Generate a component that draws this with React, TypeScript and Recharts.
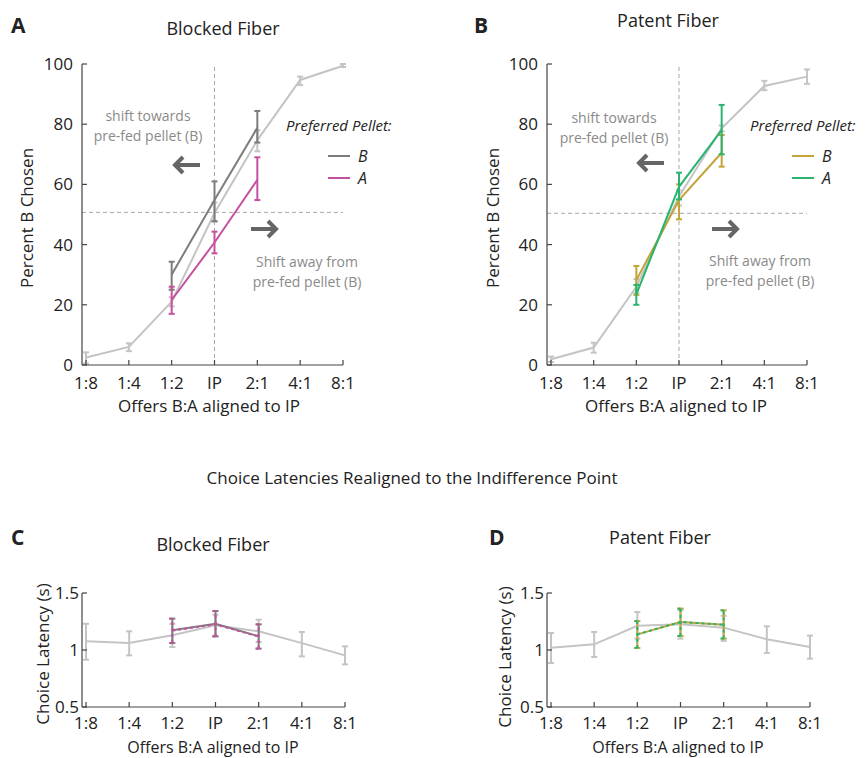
import React from "react";
import {
	LineChart,
	Line,
	XAxis,
	YAxis,
	ErrorBar,
	ReferenceLine
} from "recharts";

const FONT = "'Open Sans', 'Noto Sans', sans-serif";

const categories = ["1:8", "1:4", "1:2", "IP", "2:1", "4:1", "8:1"];
const pctTicks = [0, 20, 40, 60, 80, 100];
const latTicks = [0.5, 1, 1.5];

// A: blocked fiber, percent B chosen
const aAllMean = [2.5, 6, 21, 50.5, 74.7, 94.7, 99.4];
const aAllLo = [0.5, 4.6, 19.5, 47.5, 71, 93, 99];
const aAllHi = [4.2, 7.2, 22.5, 54, 78, 95.8, 100];
const aBMean = [null, null, 30, 54.8, 78.8, null, null];
const aBLo = [null, null, 25, 47.8, 73.9, null, null];
const aBHi = [null, null, 34.3, 61, 84.4, null, null];
const aAMean = [null, null, 21.6, 40.7, 61.5, null, null];
const aALo = [null, null, 17, 37.1, 54.8, null, null];
const aAHi = [null, null, 26, 44.3, 69, null, null];

// B: patent fiber, percent B chosen
const bAllMean = [1.9, 5.8, 26, 56, 78.6, 92.7, 95.8];
const bAllLo = [1, 4.1, 24, 53, 77.6, 91.3, 93.4];
const bAllHi = [2.8, 7.4, 28.5, 58, 79.6, 94.4, 98.2];
const bBMean = [null, null, 28.2, 54.8, 70.5, null, null];
const bBLo = [null, null, 23.3, 48.4, 65.9, null, null];
const bBHi = [null, null, 32.9, 60, 76.4, null, null];
const bAMean = [null, null, 23.5, 59.2, 78, null, null];
const bALo = [null, null, 20, 55, 70, null, null];
const bAHi = [null, null, 26.6, 63.9, 86.4, null, null];

// C: blocked fiber, choice latency (s)
const cAllMean = [1.076, 1.061, 1.129, 1.216, 1.164, 1.06, 0.953];
const cAllLo = [0.915, 0.953, 1.026, 1.12, 1.07, 0.944, 0.874];
const cAllHi = [1.23, 1.164, 1.23, 1.31, 1.266, 1.158, 1.032];
const cBMean = [null, null, 1.173, 1.23, 1.12, null, null];
const cBLo = [null, null, 1.061, 1.12, 1.012, null, null];
const cBHi = [null, null, 1.275, 1.342, 1.225, null, null];
const cAMean = [null, null, 1.17, 1.225, 1.118, null, null];
const cALo = [null, null, 1.061, 1.12, 1.012, null, null];
const cAHi = [null, null, 1.275, 1.342, 1.225, null, null];

// D: patent fiber, choice latency (s)
const dAllMean = [1.02, 1.05, 1.213, 1.225, 1.196, 1.094, 1.026];
const dAllLo = [0.886, 0.939, 1.1, 1.1, 1.08, 0.974, 0.924];
const dAllHi = [1.149, 1.158, 1.333, 1.35, 1.3, 1.208, 1.126];
const dBMean = [null, null, 1.137, 1.246, 1.222, null, null];
const dBLo = [null, null, 1.018, 1.123, 1.1, null, null];
const dBHi = [null, null, 1.254, 1.363, 1.348, null, null];
const dAMean = [null, null, 1.137, 1.246, 1.222, null, null];
const dALo = [null, null, 1.018, 1.123, 1.1, null, null];
const dAHi = [null, null, 1.254, 1.363, 1.348, null, null];

const LIGHT = "#c4c4c4";
const DARK = "#7d7d7d";
const MAGENTA = "#c4509e";
const GOLD = "#c2a437";
const GREEN = "#2ab470";
const AXIS = "#444";

type Num = number | null;

const err = (m: Num, lo: Num, hi: Num) =>
	m == null || lo == null || hi == null ? undefined : [m - lo, hi - m];

const buildRows = (
	all: Num[][],
	pb: Num[][],
	pa: Num[][]
) =>
	categories.map((name, i) => ({
		name,
		all: all[0][i],
		allErr: err(all[0][i], all[1][i], all[2][i]),
		pb: pb[0][i],
		pbErr: err(pb[0][i], pb[1][i], pb[2][i]),
		pa: pa[0][i],
		paErr: err(pa[0][i], pa[1][i], pa[2][i])
	}));

const rowsA = buildRows([aAllMean, aAllLo, aAllHi], [aBMean, aBLo, aBHi], [aAMean, aALo, aAHi]);
const rowsB = buildRows([bAllMean, bAllLo, bAllHi], [bBMean, bBLo, bBHi], [bAMean, bALo, bAHi]);
const rowsC = buildRows([cAllMean, cAllLo, cAllHi], [cBMean, cBLo, cBHi], [cAMean, cALo, cAHi]);
const rowsD = buildRows([dAllMean, dAllLo, dAllHi], [dBMean, dBLo, dBHi], [dAMean, dALo, dAHi]);

const makeXTick = (dy: number) => (props: any) => {
	const { x, y, payload } = props;
	return (
		<g>
			<line x1={x} x2={x} y1={y} y2={y - 5} stroke={AXIS} strokeWidth={1.2} />
			<text x={x} y={y + dy} textAnchor="middle" fontSize={17} fontFamily={FONT} fill="#222">
				{payload.value}
			</text>
		</g>
	);
};

const makeYTick = (gap: number) => (props: any) => {
	const { x, y, payload } = props;
	return (
		<g>
			<line x1={x} x2={x + 5} y1={y} y2={y} stroke={AXIS} strokeWidth={1.2} />
			<text x={x - gap} y={y + 6} textAnchor="end" fontSize={17} fontFamily={FONT} fill="#222">
				{String(payload.value)}
			</text>
		</g>
	);
};

const PctXTick = makeXTick(24);
const LatXTick = makeXTick(22);
const PctTick = makeYTick(9);
const LatTick = makeYTick(3);

type PanelProps = {
	rows: any[];
	left: number;
	top: number;
	right: number;
	bottom: number;
	latency: boolean;
	colB: string;
	colA: string;
	xPad: number;
	refY?: number;
};

const YW = 40;
const XH = 20;

const Panel = ({ rows, left, top, right, bottom, latency, colB, colA, xPad, refY }: PanelProps) => {
	const boxX = left - 60;
	const boxY = top - 20;
	const w = right - boxX + 20;
	const h = bottom - boxY + 40;
	return (
		<div style={{ position: "absolute", left: boxX, top: boxY }}>
			<LineChart
				width={w}
				height={h}
				data={rows}
				margin={{ top: top - boxY, left: left - boxX - YW, right: boxX + w - right, bottom: boxY + h - bottom - XH }}
			>
				<XAxis
					dataKey="name"
					height={XH}
					padding={{ left: xPad, right: 0 }}
					axisLine={{ stroke: AXIS, strokeWidth: 1.2 }}
					tickLine={false}
					tickSize={0}
					tickMargin={0}
					interval={0}
					tick={latency ? <LatXTick /> : <PctXTick />}
				/>
				<YAxis
					width={YW}
					domain={latency ? [0.5, 1.5] : [0, 100]}
					ticks={latency ? latTicks : pctTicks}
					axisLine={{ stroke: AXIS, strokeWidth: 1.2 }}
					tickLine={false}
					tickSize={0}
					tickMargin={0}
					interval={0}
					tick={latency ? <LatTick /> : <PctTick />}
				/>
				{refY != null && (
					<ReferenceLine y={refY} stroke="#a8a8a8" strokeDasharray="4 3" strokeWidth={1} />
				)}
				{refY != null && (
					<ReferenceLine x="IP" stroke="#a8a8a8" strokeDasharray="4 3" strokeWidth={1} />
				)}
				<Line
					dataKey="all"
					stroke={LIGHT}
					strokeWidth={2}
					dot={false}
					isAnimationActive={false}
				>
					<ErrorBar dataKey="allErr" width={3} stroke={LIGHT} strokeWidth={2} isAnimationActive={false} />
				</Line>
				<Line
					dataKey="pb"
					stroke={colB}
					strokeWidth={2}
					dot={false}
					isAnimationActive={false}
				>
					<ErrorBar dataKey="pbErr" width={3} stroke={colB} strokeWidth={2} isAnimationActive={false} />
				</Line>
				<Line
					dataKey="pa"
					stroke={colA}
					strokeWidth={2}
					strokeDasharray={latency ? "3 3" : undefined}
					dot={false}
					isAnimationActive={false}
				>
					<ErrorBar
						dataKey="paErr"
						width={3}
						stroke={colA}
						strokeWidth={2}
						strokeDasharray={latency ? "3 3" : undefined}
						isAnimationActive={false}
					/>
				</Line>
			</LineChart>
		</div>
	);
};

const txt = { fontFamily: FONT, fill: "#222" };
const grey = { fontFamily: FONT, fill: "#8a8a8a", fontSize: 14 };

const LeftArrow = ({ x, y }: { x: number; y: number }) => (
	<path
		d={`M${x + 26},${y} L${x + 2},${y} M${x + 9},${y - 8} L${x + 1},${y} L${x + 9},${y + 8}`}
		stroke="#666"
		strokeWidth={4}
		fill="none"
		strokeLinejoin="miter"
	/>
);

const RightArrow = ({ x, y }: { x: number; y: number }) => (
	<path
		d={`M${x},${y} L${x + 24},${y} M${x + 17},${y - 8} L${x + 25},${y} L${x + 17},${y + 8}`}
		stroke="#666"
		strokeWidth={4}
		fill="none"
		strokeLinejoin="miter"
	/>
);

const LegendBlock = ({ x, y, colB, colA }: { x: number; y: number; colB: string; colA: string }) => (
	<g>
		<text x={x} y={y} fontSize={15} fontStyle="italic" {...txt}>
			Preferred Pellet:
		</text>
		<line x1={x + 42} x2={x + 64} y1={y + 25} y2={y + 25} stroke={colB} strokeWidth={2} />
		<text x={x + 72} y={y + 31} fontSize={16} fontStyle="italic" {...txt}>
			B
		</text>
		<line x1={x + 42} x2={x + 64} y1={y + 47} y2={y + 47} stroke={colA} strokeWidth={2} />
		<text x={x + 72} y={y + 53} fontSize={16} fontStyle="italic" {...txt}>
			A
		</text>
	</g>
);

const App = () => {
	return (
		<div style={{ position: "absolute", left: 0, top: 0, width: 865, height: 758, background: "#fff", overflow: "hidden" }}>
			<Panel rows={rowsA} left={82} top={64} right={343} bottom={365} latency={false} colB={DARK} colA={MAGENTA} xPad={4} refY={50.7} />
			<Panel rows={rowsB} left={547} top={64} right={807} bottom={365} latency={false} colB={GOLD} colA={GREEN} xPad={4} refY={50.4} />
			<Panel rows={rowsC} left={82} top={593} right={345} bottom={707} latency={true} colB={DARK} colA={MAGENTA} xPad={4} />
			<Panel rows={rowsD} left={547} top={593} right={810} bottom={707} latency={true} colB={GOLD} colA={GREEN} xPad={4} />
			<svg width={865} height={758} style={{ position: "absolute", left: 0, top: 0, pointerEvents: "none" }}>
				{/* panel letters and titles */}
				<text x={11} y={33} fontSize={21} fontWeight="bold" {...txt}>A</text>
				<text x={474} y={33} fontSize={21} fontWeight="bold" {...txt}>B</text>
				<text x={11} y={545} fontSize={21} fontWeight="bold" {...txt}>C</text>
				<text x={489} y={545} fontSize={21} fontWeight="bold" {...txt}>D</text>
				<text x={223} y={35} fontSize={18} textAnchor="middle" {...txt}>Blocked Fiber</text>
				<text x={668} y={27} fontSize={18} textAnchor="middle" {...txt}>Patent Fiber</text>
				<text x={213} y={551} fontSize={18} textAnchor="middle" {...txt}>Blocked Fiber</text>
				<text x={660} y={544} fontSize={18} textAnchor="middle" {...txt}>Patent Fiber</text>
				<text x={412} y={484} fontSize={17} textAnchor="middle" {...txt}>
					Choice Latencies Realigned to the Indifference Point
				</text>

				{/* axis titles */}
				<text transform="translate(33,218) rotate(-90)" fontSize={17} textAnchor="middle" {...txt}>Percent B Chosen</text>
				<text transform="translate(499,218) rotate(-90)" fontSize={17} textAnchor="middle" {...txt}>Percent B Chosen</text>
				<text transform="translate(49,654) rotate(-90)" fontSize={17} textAnchor="middle" {...txt}>Choice Latency (s)</text>
				<text transform="translate(511,657) rotate(-90)" fontSize={17} textAnchor="middle" {...txt}>Choice Latency (s)</text>
				<text x={209} y={412} fontSize={17} textAnchor="middle" {...txt}>Offers B:A aligned to IP</text>
				<text x={676} y={412} fontSize={17} textAnchor="middle" {...txt}>Offers B:A aligned to IP</text>
				<text x={213} y={753} fontSize={16} textAnchor="middle" {...txt}>Offers B:A aligned to IP</text>
				<text x={678} y={753} fontSize={16} textAnchor="middle" {...txt}>Offers B:A aligned to IP</text>

				{/* annotations A */}
				<text x={148} y={121} textAnchor="middle" {...grey}>shift towards</text>
				<text x={148} y={141} textAnchor="middle" {...grey}>pre-fed pellet (B)</text>
				<LeftArrow x={174} y={165} />
				<RightArrow x={251} y={229} />
				<text x={307} y={267} textAnchor="middle" {...grey}>Shift away from</text>
				<text x={307} y={287} textAnchor="middle" {...grey}>pre-fed pellet (B)</text>
				<LegendBlock x={286} y={131} colB={DARK} colA={MAGENTA} />

				{/* annotations B */}
				<text x={614} y={123} textAnchor="middle" {...grey}>shift towards</text>
				<text x={614} y={143} textAnchor="middle" {...grey}>pre-fed pellet (B)</text>
				<LeftArrow x={638} y={163} />
				<RightArrow x={712} y={229} />
				<text x={760} y={266} textAnchor="middle" {...grey}>Shift away from</text>
				<text x={760} y={286} textAnchor="middle" {...grey}>pre-fed pellet (B)</text>
				<LegendBlock x={750} y={131} colB={GOLD} colA={GREEN} />
			</svg>
		</div>
	);
};

export default App;
